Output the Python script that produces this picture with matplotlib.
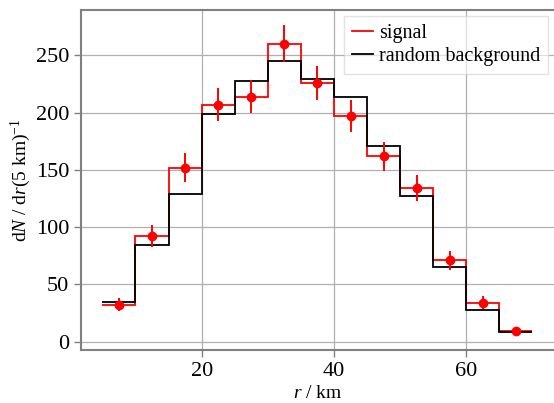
import numpy as np
import matplotlib
matplotlib.use("Agg")
import matplotlib.pyplot as plt

bin_edges = [5, 10, 15, 20, 25, 30, 35, 40, 45, 50, 55, 60, 65, 70]
signal = [32, 92, 152, 207, 214, 260, 226, 197, 162, 134, 71, 34, 9]
background = [35, 84, 129, 199, 228, 245, 229, 214, 171, 127, 65, 28, 8]
x_ticks = [20, 40, 60]
y_ticks = [0, 50, 100, 150, 200, 250]

plt.rcParams['font.family'] = ['Liberation Serif', 'DejaVu Serif']
plt.rcParams['mathtext.fontset'] = 'custom'
plt.rcParams['mathtext.rm'] = 'Liberation Serif'
plt.rcParams['mathtext.it'] = 'Liberation Serif:italic'

fig = plt.figure(figsize=(5.54, 4.03), dpi=100)
ax = fig.add_axes([0.146, 0.131, 0.854, 0.844])

edges = np.array(bin_edges, dtype=float)
sig = np.array(signal, dtype=float)
bkg = np.array(background, dtype=float)
centers = 0.5 * (edges[:-1] + edges[1:])

ax.stairs(sig, edges, baseline=None, color='red', lw=1.3, label='signal')
ax.errorbar(centers, sig, yerr=np.sqrt(sig), fmt='o', color='red', ms=6, lw=1.4)
ax.stairs(bkg, edges, baseline=None, color='black', lw=1.3, label='random background')

ax.set_xticks(x_ticks)
ax.set_yticks(y_ticks)
ax.set_xlim(1.75, 73.25)
ax.set_ylim(-7.5, 289.5)
ax.grid(True, color='#b0b0b0', lw=0.9)
ax.set_axisbelow(True)

for s in ax.spines.values():
    s.set_color('#808080')
    s.set_linewidth(1.5)
ax.spines['right'].set_visible(False)

ax.tick_params(axis='both', colors='#808080', labelcolor='black', labelsize=16, length=5, width=1)

ax.set_xlabel(r'$r$ / km', fontsize=14, labelpad=3)
ax.set_ylabel(r'd$N$ / d$r$(5 km)$^{-1}$', fontsize=14, labelpad=2)

leg = ax.legend(loc='upper right', fontsize=14.5, handlelength=1.0, handletextpad=0.3,
                framealpha=0.6, fancybox=False, borderpad=0.4, labelspacing=0.2,
                borderaxespad=0.3)
leg.get_frame().set_edgecolor('#d0d0d0')

fig.savefig('out.png', dpi=100)
